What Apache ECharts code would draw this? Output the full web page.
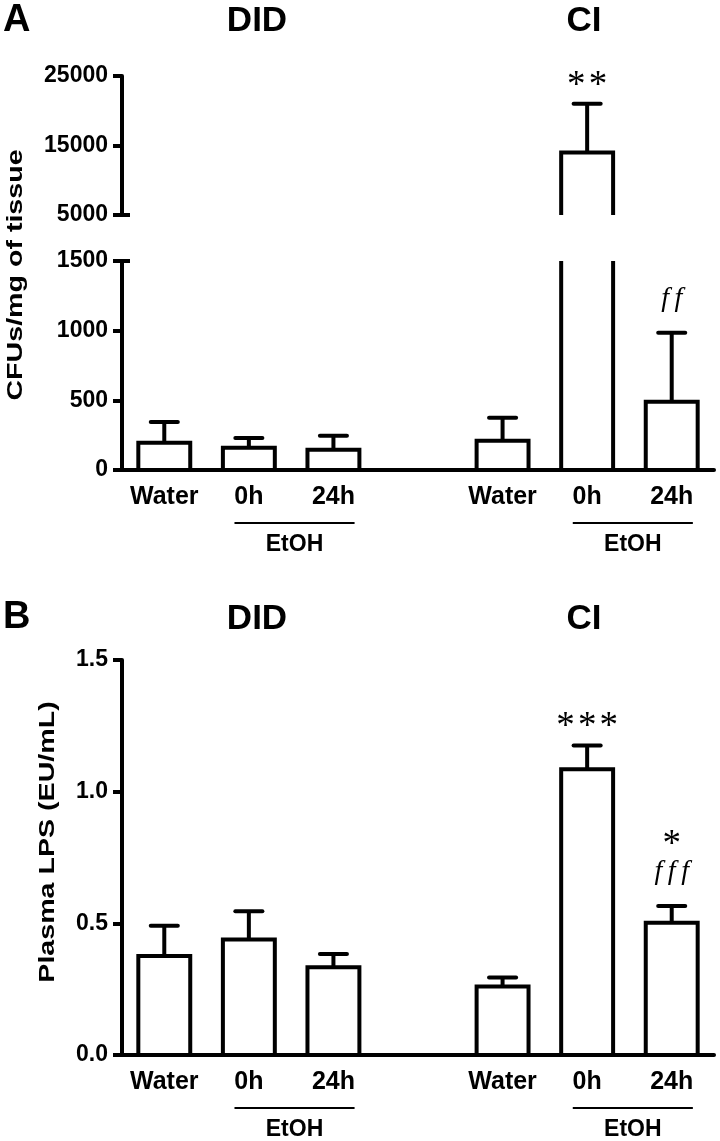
<!DOCTYPE html>
<html><head><meta charset="utf-8">
<script src="https://cdn.jsdelivr.net/npm/echarts@6/dist/echarts.min.js"></script>
<style>html,body{margin:0;padding:0;background:#fff}#c{width:720px;height:1141px}</style>
</head><body><div id="c"></div>
<script>
// ---- data ----
const categories = ['Water', '0h', '24h', '', 'Water', '0h', '24h'];
const cfuMean = [195, 160, 145, null, 210, 14000, 490];
const cfuSem  = [150, 70, 100, null, 165, 7000, 495];
const lpsMean = [0.376, 0.439, 0.333, null, 0.26, 1.085, 0.502];
const lpsSem  = [0.115, 0.107, 0.051, null, 0.034, 0.09, 0.064];
const cfuStars = ['', '', '', '', '', '**', ''];
const cfuF     = ['', '', '', '', '', '', 'ff'];
const lpsStars = ['', '', '', '', '', '***', '*'];
const lpsF     = ['', '', '', '', '', '', 'fff'];
const cfuTicksUpper = [5000, 15000, 25000];
const cfuTicksLower = [0, 500, 1000, 1500];
const lpsTicks = [0, 0.5, 1.0, 1.5];
const groupTitles = ['DID', 'CI'];
const etohGroups = [[1, 2], [5, 6]];
const etohLabel = 'EtOH';
const cfuAxisName = 'CFUs/mg of tissue';
const lpsAxisName = 'Plasma LPS (EU/mL)';

// ---- styling helpers ----
const SANS = '"Liberation Sans", Arial, Helvetica, sans-serif';
const SERIF = '"Liberation Serif", "Times New Roman", serif';
const LW = 4;
const BAR_HALF = 0.307;   // fraction of band
const CAP_HALF = 0.16;

function spaced(s, sep) { return s.split('').join(sep); }

function barData(mean, sem) {
  const out = [];
  mean.forEach((m, i) => { if (m !== null) out.push([i, m, sem[i]]); });
  return out;
}

function barRenderer(yMin, yMax) {
  return function (params, api) {
    const idx = api.value(0), mean = api.value(1), sem = api.value(2);
    if (!(mean > yMin)) return { type: 'group', children: [] };
    const band = api.size([1, 0])[0];
    const half = band * BAR_HALF;
    const base = api.coord([idx, yMin]);
    const x = base[0], yB = base[1];
    const over = mean > yMax;
    const yT = api.coord([idx, Math.min(mean, yMax)])[1];
    const st = { stroke: '#000', lineWidth: LW, fill: null, lineJoin: 'miter' };
    const ch = [];
    if (over) {
      ch.push({ type: 'line', shape: { x1: x - half, y1: yB, x2: x - half, y2: yT }, style: st });
      ch.push({ type: 'line', shape: { x1: x + half, y1: yB, x2: x + half, y2: yT }, style: st });
    } else {
      ch.push({ type: 'polyline', shape: { points: [[x - half, yB], [x - half, yT], [x + half, yT], [x + half, yB]] }, style: st });
      const hi = mean + sem;
      if (hi <= yMax) {
        const yE = api.coord([idx, hi])[1];
        const ch2 = band * CAP_HALF;
        ch.push({ type: 'line', shape: { x1: x, y1: yT, x2: x, y2: yE }, style: { stroke: '#000', lineWidth: LW } });
        ch.push({ type: 'line', shape: { x1: x - ch2, y1: yE, x2: x + ch2, y2: yE }, style: { stroke: '#000', lineWidth: LW, lineCap: 'round' } });
      }
    }
    return { type: 'group', children: ch };
  };
}

function sigRenderer(mean, sem, stars, fs, yMin, yMax) {
  return function (params, api) {
    const idx = api.value(0);
    const hi = mean[idx] + sem[idx];
    if (!(hi >= yMin && hi <= yMax)) return { type: 'group', children: [] };
    const p = api.coord([idx, hi]);
    const ch = [];
    const starSize = 37;
    const starStyle = t => ({ text: spaced(t, '\u200A'), fontFamily: SERIF, fontSize: starSize, fill: '#000', align: 'center', verticalAlign: 'middle' });
    if (fs[idx]) {
      ch.push({ type: 'text', x: p[0], y: p[1] - 34, style: { text: spaced(fs[idx], '\u2009'), fontFamily: SERIF, fontStyle: 'italic', fontSize: 28, fill: '#000', align: 'center', verticalAlign: 'middle' } });
      if (stars[idx]) ch.push({ type: 'text', x: p[0], y: p[1] - 69 + 8, style: starStyle(stars[idx]) });
    } else if (stars[idx]) {
      ch.push({ type: 'text', x: p[0], y: p[1] - 26 + 8, style: starStyle(stars[idx]) });
    }
    return { type: 'group', children: ch };
  };
}

function sigData(stars, fs) {
  const out = [];
  categories.forEach((c, i) => { if (stars[i] || fs[i]) out.push([i]); });
  return out;
}

function etohRenderer(yMin) {
  return function (params, api) {
    const a = api.value(0), b = api.value(1);
    const band = api.size([1, 0])[0];
    const pa = api.coord([a, yMin]), pb = api.coord([b, yMin]);
    const x1 = pa[0] - band * 0.17, x2 = pb[0] + band * 0.25;
    const y = pa[1];
    return {
      type: 'group', children: [
        { type: 'line', shape: { x1: x1, y1: y + 53, x2: x2, y2: y + 53 }, style: { stroke: '#000', lineWidth: 1.8 } },
        { type: 'text', x: (x1 + x2) / 2, y: y + 75, style: { text: etohLabel, fontFamily: SANS, fontWeight: 'bold', fontSize: 23, fill: '#000', align: 'center', verticalAlign: 'middle' } }
      ]
    };
  };
}

function breakRenderer(params, api) {
  const band = api.size([1, 0])[0];
  const p = api.coord([0, api.value(1)]);
  const ax = p[0] - band / 2;
  return { type: 'line', shape: { x1: ax - 9, y1: p[1], x2: ax + 8, y2: p[1] }, style: { stroke: '#000', lineWidth: LW } };
}

function xAxis(gi, show) {
  return {
    type: 'category', gridIndex: gi, data: categories, boundaryGap: true, show: show,
    axisLine: { show: show, onZero: false, lineStyle: { color: '#000', width: LW } },
    axisTick: { show: false },
    axisLabel: { show: show, interval: 0, margin: 15, color: '#000', fontFamily: SANS, fontWeight: 'bold', fontSize: 25, lineHeight: 25 },
    splitLine: { show: false }
  };
}
function yAxis(gi, ticks, fmt) {
  return {
    type: 'value', gridIndex: gi, min: ticks[0], max: ticks[ticks.length - 1], interval: ticks[1] - ticks[0],
    axisLine: { show: true, lineStyle: { color: '#000', width: LW } },
    axisTick: { show: true, length: 9, lineStyle: { color: '#000', width: LW } },
    axisLabel: { margin: 14, color: '#000', fontFamily: SANS, fontWeight: 'bold', fontSize: 23, formatter: fmt },
    splitLine: { show: false }
  };
}

const chart = echarts.init(document.getElementById('c'), null, { renderer: 'canvas' });
chart.setOption({
  animation: false,
  backgroundColor: '#fff',
  grid: [
    { left: 122, width: 592, top: 76, height: 139 },
    { left: 122, width: 592, top: 261, height: 209 },
    { left: 122, width: 592, top: 660, height: 395 }
  ],
  xAxis: [xAxis(0, false), xAxis(1, true), xAxis(2, true)],
  yAxis: [
    yAxis(0, cfuTicksUpper, v => String(v)),
    yAxis(1, cfuTicksLower, v => String(v)),
    yAxis(2, lpsTicks, v => v.toFixed(1))
  ],
  graphic: [
    { type: 'text', x: 3, y: 21, style: { text: 'A', fontFamily: SANS, fontWeight: 'bold', fontSize: 38, fill: '#000', verticalAlign: 'middle' } },
    { type: 'text', x: 257, y: 21, style: { text: groupTitles[0], fontFamily: SANS, fontWeight: 'bold', fontSize: 35, fill: '#000', align: 'center', verticalAlign: 'middle' } },
    { type: 'text', x: 584, y: 21, style: { text: groupTitles[1], fontFamily: SANS, fontWeight: 'bold', fontSize: 35, fill: '#000', align: 'center', verticalAlign: 'middle' } },
    { type: 'text', x: 3, y: 618, style: { text: 'B', fontFamily: SANS, fontWeight: 'bold', fontSize: 38, fill: '#000', verticalAlign: 'middle' } },
    { type: 'text', x: 257, y: 619, style: { text: groupTitles[0], fontFamily: SANS, fontWeight: 'bold', fontSize: 35, fill: '#000', align: 'center', verticalAlign: 'middle' } },
    { type: 'text', x: 584, y: 619, style: { text: groupTitles[1], fontFamily: SANS, fontWeight: 'bold', fontSize: 35, fill: '#000', align: 'center', verticalAlign: 'middle' } },
    { type: 'text', x: 16, y: 275, rotation: Math.PI / 2, scaleX: 1.3, style: { text: cfuAxisName, fontFamily: SANS, fontWeight: 'bold', fontSize: 22, fill: '#000', align: 'center', verticalAlign: 'middle' } },
    { type: 'text', x: 48, y: 842, rotation: Math.PI / 2, scaleX: 1.3, style: { text: lpsAxisName, fontFamily: SANS, fontWeight: 'bold', fontSize: 22, fill: '#000', align: 'center', verticalAlign: 'middle' } }
  ],
  series: [
    { type: 'custom', name: 'cfuUpper', xAxisIndex: 0, yAxisIndex: 0, renderItem: barRenderer(5000, 25000), data: barData(cfuMean, cfuSem), clip: false },
    { type: 'custom', name: 'cfuLower', xAxisIndex: 1, yAxisIndex: 1, renderItem: barRenderer(0, 1500), data: barData(cfuMean, cfuSem), clip: false },
    { type: 'custom', name: 'lps', xAxisIndex: 2, yAxisIndex: 2, renderItem: barRenderer(0, 1.5), data: barData(lpsMean, lpsSem), clip: false },
    { type: 'custom', name: 'sigU', xAxisIndex: 0, yAxisIndex: 0, renderItem: sigRenderer(cfuMean, cfuSem, cfuStars, cfuF, 5000, 25000), data: sigData(cfuStars, cfuF), clip: false },
    { type: 'custom', name: 'sigL', xAxisIndex: 1, yAxisIndex: 1, renderItem: sigRenderer(cfuMean, cfuSem, cfuStars, cfuF, 0, 1500), data: sigData(cfuStars, cfuF), clip: false },
    { type: 'custom', name: 'sigB', xAxisIndex: 2, yAxisIndex: 2, renderItem: sigRenderer(lpsMean, lpsSem, lpsStars, lpsF, 0, 1.5), data: sigData(lpsStars, lpsF), clip: false },
    { type: 'custom', name: 'etohA', xAxisIndex: 1, yAxisIndex: 1, renderItem: etohRenderer(0), data: etohGroups, clip: false },
    { type: 'custom', name: 'etohB', xAxisIndex: 2, yAxisIndex: 2, renderItem: etohRenderer(0), data: etohGroups, clip: false },
    { type: 'custom', name: 'breakU', xAxisIndex: 0, yAxisIndex: 0, renderItem: breakRenderer, data: [[0, cfuTicksUpper[0]]], clip: false },
    { type: 'custom', name: 'breakL', xAxisIndex: 1, yAxisIndex: 1, renderItem: breakRenderer, data: [[0, cfuTicksLower[cfuTicksLower.length - 1]]], clip: false }
  ]
});
</script>
</body></html>
